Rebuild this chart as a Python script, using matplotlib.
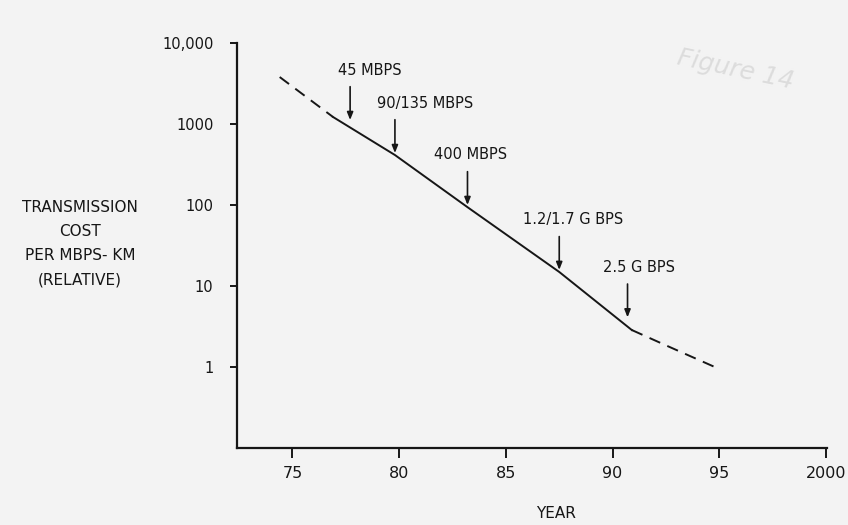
# plot.py - transmission cost per Mbps-km, scanned hand-drawn figure
import matplotlib
matplotlib.use('Agg')
import matplotlib.pyplot as plt

# ---------------------------------------------------------------------------
# Data
# ---------------------------------------------------------------------------
trend_years = [74.4, 76.9, 79.8, 83.2, 87.5, 90.9, 92.6, 94.9]
trend_cost = [3800, 1220, 414, 94, 14.9, 2.86, 1.8, 0.97]
SOLID_START, SOLID_END = 1, 5   # indices bounding the solid part

rate_labels = ['45 MBPS', '90/135 MBPS', '400 MBPS', '1.2/1.7 G BPS', '2.5 G BPS']
rate_years = [77.7, 79.8, 83.2, 87.5, 90.7]
rate_cost = [1120, 438, 100, 15.8, 4.1]

y_ticks = [1, 10, 100, 1000, 10000]
y_tick_labels = ['1', '10', '100', '1000', '10,000']
x_ticks = [75, 80, 85, 90, 95, 100]
x_tick_labels = ['75', '80', '85', '90', '95', '2000']

# label offsets in points relative to the arrow tip (layout only)
label_dx = [14, 22, 2, 10, 8]

INK = '#161616'
PAPER = '#f3f3f3'

fig = plt.figure(figsize=(8.48, 5.25), dpi=100)
fig.patch.set_facecolor(PAPER)
ax = fig.add_axes([0.2795, 0.1467, 0.6958, 0.7714])
ax.set_facecolor(PAPER)

ax.set_yscale('log')
ax.set_ylim(0.1, 10000)
ax.set_xlim(72.4, 100.05)

# trend line: dashed - solid - dashed
ax.plot(trend_years[:SOLID_START + 1], trend_cost[:SOLID_START + 1],
        color=INK, lw=1.4, dashes=(6, 4))
ax.plot(trend_years[SOLID_START:SOLID_END + 1], trend_cost[SOLID_START:SOLID_END + 1],
        color=INK, lw=1.4)
ax.plot(trend_years[SOLID_END:], trend_cost[SOLID_END:],
        color=INK, lw=1.4, dashes=(6, 4))

# rate arrows with labels
for lab, yr, c, dx in zip(rate_labels, rate_years, rate_cost, label_dx):
    ax.annotate('', xy=(yr, c), xytext=(0, 24), textcoords='offset points',
                arrowprops=dict(arrowstyle='-|>,head_width=0.18,head_length=0.45',
                                color=INK, lw=1.2, shrinkA=0, shrinkB=0))
    ax.annotate(lab, xy=(yr, c), xytext=(dx, 36), textcoords='offset points',
                ha='center', va='center', fontsize=10.5, color=INK)

# axes
for side in ('top', 'right'):
    ax.spines[side].set_visible(False)
for side in ('left', 'bottom'):
    ax.spines[side].set_color(INK)
    ax.spines[side].set_linewidth(1.6)

ax.set_yticks(y_ticks)
ax.set_yticklabels(y_tick_labels)
ax.minorticks_off()
ax.tick_params(axis='y', direction='out', length=5, width=1.4, pad=12,
               labelsize=10.5, colors=INK)
ax.set_xticks(x_ticks)
ax.set_xticklabels(x_tick_labels)
ax.tick_params(axis='x', direction='out', length=7, width=1.4, pad=6,
               labelsize=11.5, colors=INK)

fig.text(80 / 848, 1 - 244 / 525,
         'TRANSMISSION\nCOST\nPER MBPS- KM\n(RELATIVE)',
         ha='center', va='center', fontsize=11, color=INK, linespacing=1.75)
fig.text(556 / 848, 1 - 513 / 525, 'YEAR', ha='center', va='center',
         fontsize=11, color=INK)

# faint pencil note in the corner of the scan
fig.text(735 / 848, 1 - 70 / 525, 'Figure 14', ha='center', va='center',
         fontsize=18, color='#dcdcdc', style='italic', rotation=-12)

fig.savefig('out.png', dpi=100, facecolor=PAPER)
